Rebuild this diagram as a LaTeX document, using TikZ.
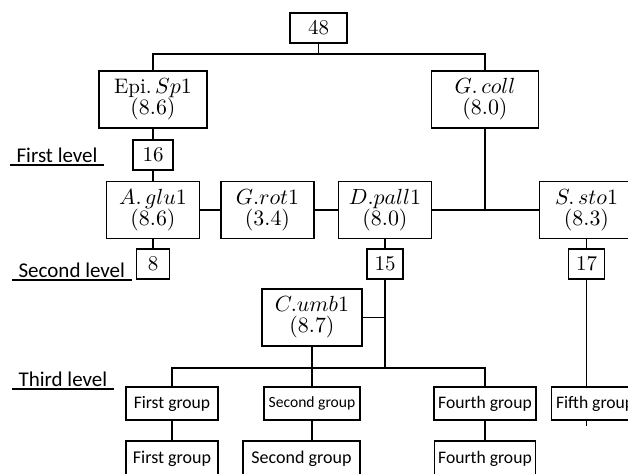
\documentclass[tikz,border=0pt]{standalone}
\usepackage{fontspec}
\newfontfamily\grpfont{Carlito}
\usepackage{tikz}

\begin{document}
\begin{tikzpicture}[x=0.5pt, y=-0.5pt, line width=0.6pt,
    box/.style={draw, inner sep=0pt, minimum height=28.5pt, align=center,
      font=\fontsize{10.5}{10.5}\selectfont},
    num/.style={draw, inner sep=0pt, minimum height=15pt,
      font=\fontsize{10.5}{12}\selectfont},
    grp/.style={draw, inner sep=0pt, minimum height=16.5pt,
      font=\grpfont\fontsize{8.8}{10}\selectfont},
    lvl/.style={anchor=south west, inner xsep=3pt, inner ysep=1pt,
      font=\grpfont\fontsize{10.5}{12}\selectfont}]
  \useasboundingbox (0,0) rectangle (628,473);

  \node[num, minimum width=28.5pt] (n48) at (318.5,28) {48};
  \node[box, minimum width=54pt] (epi) at (153,99.5) {Epi.\,$Sp1$\\$(8.6)$};
  \node[box, minimum width=53.5pt] (gcoll) at (485,99.5) {$G.\,coll$\\$(8.0)$};
  \node[num, minimum width=20pt] (n16) at (153,155) {16};
  \node[box, minimum width=46.5pt] (aglu) at (153,210) {$A.\,glu1$\\$(8.6)$};
  \node[box, minimum width=46.5pt] (grot) at (267.5,210) {$G.rot1$\\$(3.4)$};
  \node[box, minimum width=46.5pt] (dpall) at (385,210) {$D.pall1$\\$(8.0)$};
  \node[box, minimum width=47pt] (ssto) at (586.5,210) {$S.\,sto1$\\$(8.3)$};
  \node[num, minimum width=16.5pt] (n8) at (153,264) {8};
  \node[num, minimum width=18pt] (n15) at (385,264) {15};
  \node[num, minimum width=18pt] (n17) at (586.5,264) {17};
  \node[box, minimum width=50pt] (cumb) at (312,317.5) {$C.umb1$\\$(8.7)$};

  % groups
  \node[grp, minimum width=46pt] (first1) at (172,403.5) {First group};
  \node[grp, minimum width=48pt, font=\grpfont\fontsize{7.8}{10}\selectfont]
    (second1) at (312,403.5) {Second group};
  \node[grp, minimum width=51pt] (fourth1) at (485,403.5) {Fourth group};
  \node[grp, minimum width=43.5pt, anchor=west] (fifth1) at (551,403.5) {Fifth group};
  \node[grp, minimum width=46pt, minimum height=18pt,
    font=\grpfont\fontsize{9}{10}\selectfont] (first2) at (172,459) {First group};
  \node[grp, minimum width=58.5pt, minimum height=18pt,
    font=\grpfont\fontsize{9}{10}\selectfont] (second2) at (301.5,459) {Second group};
  \node[grp, minimum width=50.5pt, minimum height=18pt] (fourth2) at (485,459) {Fourth group};

  % levels
  \node[lvl] (lv1) at (10,165) {First level};
  \node[lvl] (lv2) at (12,280) {Second level};
  \node[lvl] (lv3) at (12,389) {Third level};
  \draw (lv1.south west) -- (lv1.south east);
  \draw (lv2.south west) -- (lv2.south east);
  \draw (lv3.south west) -- (lv3.south east);

  % links
  \coordinate (top) at (318.5,54);
  \coordinate (mid) at (385,368);
  \draw (n48) -- (top);
  \draw (epi) |- (top) -| (gcoll);
  \draw (epi) -- (n16) -- (aglu) -- (n8);
  \draw (aglu) -- (grot) -- (dpall) -- (ssto);
  \draw (gcoll) -- (gcoll |- dpall);
  \draw (dpall) -- (n15) -- (mid);
  \draw (cumb) -- (cumb -| n15);
  \draw (first1) |- (mid) -| (fourth1);
  \draw (cumb) -- (second1);
  \draw (ssto) -- (n17) -- (n17 |- fifth1.north);
  \draw (n17 |- fifth1.south) -- ++(0,5);
  \draw (first1) -- (first2);
  \draw (second1) -- (second1 |- second2.north);
  \draw (fourth1) -- (fourth2);
\end{tikzpicture}
\end{document}
